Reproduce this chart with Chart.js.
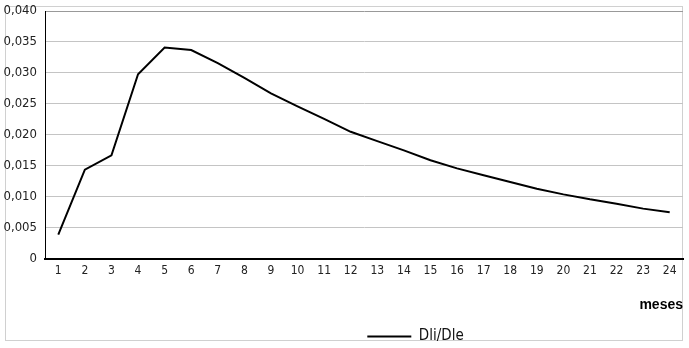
<!DOCTYPE html>
<html>
<head>
<meta charset="utf-8">
<script src="https://cdn.jsdelivr.net/npm/chart.js@4/dist/chart.umd.min.js"></script>
<style>
  html, body { margin: 0; padding: 0; background: #fff; }
  #wrap { width: 689px; height: 348px; }
</style>
</head>
<body>
<div id="wrap"><canvas id="chart"></canvas></div>
<script>
// Data
const months = ['1','2','3','4','5','6','7','8','9','10','11','12',
                '13','14','15','16','17','18','19','20','21','22','23','24'];
const ratio = [0.0039, 0.0144, 0.0167, 0.0298, 0.0341, 0.0337, 0.0316, 0.0292,
               0.0267, 0.0246, 0.0226, 0.0205, 0.0190, 0.0175, 0.0159, 0.0146,
               0.0135, 0.0124, 0.0113, 0.0104, 0.0096, 0.0089, 0.0081, 0.0075];
const seriesName = 'Dli/Dle';
const axisTitle = 'meses';

const narrow = '"Liberation Sans Narrow", "DejaVu Sans Condensed", sans-serif';

// light gray frame around the whole picture (drawn first, under the text)
const framePlugin = {
    id: 'frame',
    beforeDraw(chart) {
        const ctx = chart.ctx;
        ctx.save();
        ctx.strokeStyle = '#d0d0d0';
        ctx.lineWidth = 1;
        ctx.strokeRect(5.5, 6.5, 677, 334);
        ctx.restore();
    }
};

// move the legend a bit to the right like in the original
const legendShift = {
    id: 'legendShift',
    afterLayout(chart) {
        chart.legend.left += 74;
        chart.legend.right += 74;
    }
};

const ctx = document.getElementById('chart').getContext('2d');
new Chart(ctx, {
    type: 'line',
    data: {
        labels: months,
        datasets: [{
            label: seriesName,
            data: ratio,
            borderColor: '#000',
            backgroundColor: '#000',
            borderWidth: 2,
            pointRadius: 0,
            tension: 0
        }]
    },
    options: {
        responsive: true,
        maintainAspectRatio: false,
        animation: false,
        layout: { padding: { left: 0, right: 6, top: 11, bottom: -6 } },
        plugins: {
            tooltip: { enabled: false },
            legend: {
                position: 'bottom',
                labels: {
                    usePointStyle: true,
                    pointStyle: 'line',
                    pointStyleWidth: 44,
                    boxWidth: 44,
                    color: '#111',
                    font: { family: narrow, size: 15 },
                    padding: 8
                }
            }
        },
        scales: {
            x: {
                offset: true,
                grid: { display: false, drawTicks: false },
                border: { color: '#000', width: 2 },
                ticks: {
                    color: '#222',
                    font: { family: narrow, size: 12 },
                    padding: 5,
                    maxRotation: 0,
                    autoSkip: false
                },
                title: {
                    display: true,
                    text: axisTitle,
                    align: 'end',
                    color: '#000',
                    font: { family: '"Liberation Sans", Arial, sans-serif', size: 14, weight: 'bold' },
                    padding: { top: 14, bottom: 7 }
                }
            },
            y: {
                min: 0,
                max: 0.04,
                afterFit(scale) {
                    scale.width = 45;
                    scale.paddingTop = 0;
                    scale.paddingBottom = 0;
                },
                grid: {
                    drawTicks: false,
                    color: (c) => c.tick && c.tick.value >= 0.04 ? '#999' : '#c4c4c4'
                },
                border: { color: '#000', width: 1 },
                ticks: {
                    stepSize: 0.005,
                    padding: 8,
                    color: '#222',
                    font: { family: narrow, size: 13 },
                    callback: (v) => v === 0 ? '0' : v.toFixed(3).replace('.', ',')
                }
            }
        }
    },
    plugins: [framePlugin, legendShift]
});
</script>
</body>
</html>
